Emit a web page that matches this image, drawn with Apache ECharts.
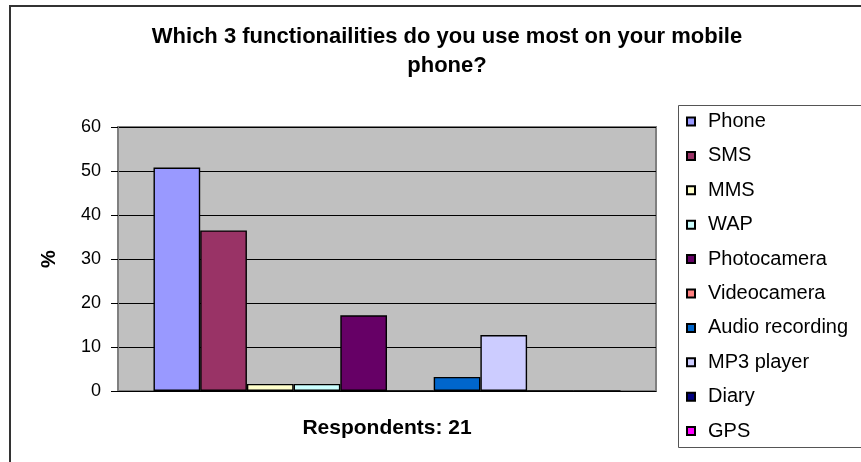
<!DOCTYPE html>
<html>
<head>
<meta charset="utf-8">
<script src="https://cdn.jsdelivr.net/npm/echarts@6/dist/echarts.min.js"></script>
<style>
  html, body { margin: 0; padding: 0; background: #fff; }
  #chart { width: 861px; height: 462px; }
</style>
</head>
<body>
<div id="chart"></div>
<script>
// Survey question and the single category on the x axis
const titleText = 'Which 3 functionailities do you use most on your mobile\nphone?';
const categories = ['Respondents: 21'];

// One series per functionality (share of answers, %)
const functionNames = ['Phone', 'SMS', 'MMS', 'WAP', 'Photocamera', 'Videocamera',
  'Audio recording', 'MP3 player', 'Diary', 'GPS'];
const functionValues = [50.8, 36.5, 1.6, 1.6, 17.2, 0, 3.2, 12.7, 0, 0];
const functionColors = ['#9999FF', '#993366', '#FFFFCC', '#CCFFFF', '#660066', '#FF8080',
  '#0066CC', '#CCCCFF', '#000080', '#FF00FF'];

// Value axis ticks
const yTicks = [0, 10, 20, 30, 40, 50, 60];

const FONT = '"Liberation Sans", Arial, sans-serif';

const chart = echarts.init(document.getElementById('chart'), null, { renderer: 'canvas' });

const series = functionNames.map((name, i) => ({
  name: name,
  type: 'bar',
  data: [functionValues[i]],
  barGap: '0%',
  barCategoryGap: '13.2%',
  itemStyle: { color: functionColors[i], borderColor: '#000', borderWidth: 1.4 },
  emphasis: { disabled: true }
}));

chart.setOption({
  animation: false,
  backgroundColor: '#fff',
  title: {
    text: titleText,
    left: 442,
    top: 17,
    textAlign: 'center',
    textStyle: {
      fontFamily: FONT,
      fontWeight: 'bold',
      fontSize: 22,
      lineHeight: 29,
      color: '#000'
    }
  },
  graphic: [
    {
      type: 'rect',
      shape: { x: 10, y: 6, width: 900, height: 500 },
      style: { fill: 'none', stroke: '#333', lineWidth: 2 },
      silent: true,
      z: -10
    },
    {
      type: 'rect',
      shape: { x: 678.5, y: 105.5, width: 300, height: 342 },
      style: { fill: '#fff', stroke: '#555', lineWidth: 1 },
      silent: true,
      z: -5
    }
  ],
  legend: {
    orient: 'vertical',
    left: 686,
    top: 111.5,
    padding: 0,
    itemGap: 14.4,
    itemWidth: 8,
    itemHeight: 8,
    icon: 'rect',
    selectedMode: false,
    data: functionNames,
    textStyle: {
      fontFamily: FONT,
      fontSize: 20,
      lineHeight: 20,
      color: '#000',
      padding: [0, 0, 0, 8]
    }
  },
  grid: {
    left: 118,
    right: 205,
    top: 127,
    bottom: 71,
    show: true,
    backgroundColor: '#C0C0C0',
    borderColor: '#808080',
    borderWidth: 2
  },
  xAxis: {
    type: 'category',
    data: categories,
    axisLine: { show: true, lineStyle: { color: '#000', width: 1 } },
    axisTick: { show: false },
    axisLabel: {
      margin: 27,
      fontFamily: FONT,
      fontWeight: 'bold',
      fontSize: 21,
      color: '#000'
    }
  },
  yAxis: {
    type: 'value',
    min: yTicks[0],
    max: yTicks[yTicks.length - 1],
    interval: 10,
    name: '%',
    nameLocation: 'middle',
    nameGap: 59,
    nameRotate: 90,
    nameTextStyle: {
      fontFamily: FONT,
      fontWeight: 'bold',
      fontSize: 20,
      color: '#000'
    },
    axisLine: { show: true, lineStyle: { color: '#808080', width: 2 } },
    axisTick: { show: true, inside: false, length: 7, lineStyle: { color: '#000', width: 1 } },
    axisLabel: {
      margin: 17,
      fontFamily: FONT,
      fontSize: 18,
      color: '#000'
    },
    splitLine: { show: true, lineStyle: { color: '#000', width: 1 } }
  },
  series: series
});
</script>
</body>
</html>
